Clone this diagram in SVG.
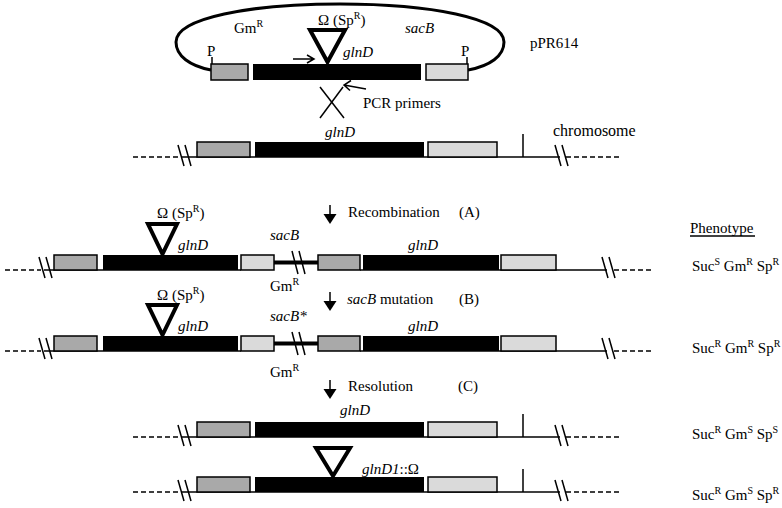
<svg xmlns="http://www.w3.org/2000/svg" width="782" height="508" viewBox="0 0 782 508" font-family="'Liberation Serif', 'Times New Roman', 'DejaVu Serif', serif">
<style>
text{font-family:'Liberation Serif','Times New Roman','DejaVu Serif',serif;font-size:15px;fill:#000}
.it{font-style:italic}
.sup{font-size:10px}
.ln{stroke:#000;stroke-width:1.5;fill:none}
.dash{stroke:#000;stroke-width:1.5;fill:none;stroke-dasharray:5 3}
.thick{stroke:#000;stroke-width:4;fill:none}
.dk{fill:#a9a9a9;stroke:#000;stroke-width:1.5}
.lt{fill:#dadada;stroke:#000;stroke-width:1.5}
.gene{fill:#000}
.tri{fill:none;stroke:#000;stroke-width:4;stroke-linejoin:miter}
</style>
<defs>
<g id="chrom">
<line class="dash" x1="133" y1="15" x2="178" y2="15"/>
<line class="ln" x1="181" y1="15" x2="560" y2="15"/>
<line class="ln" x1="178" y1="3" x2="184" y2="24"/>
<line class="ln" x1="185" y1="3" x2="191" y2="24"/>
<rect class="dk" x="197" y="0" width="53" height="15"/>
<rect class="gene" x="255" y="0" width="169" height="15"/>
<rect class="lt" x="428" y="0" width="69" height="15"/>
<line class="ln" x1="523" y1="-8" x2="523" y2="15"/>
<line class="ln" x1="555" y1="3" x2="561" y2="24"/>
<line class="ln" x1="562" y1="3" x2="568" y2="24"/>
<line class="dash" x1="566" y1="15" x2="620" y2="15"/>
</g>
<g id="coint">
<line class="dash" x1="5" y1="15" x2="41" y2="15"/>
<line class="ln" x1="44" y1="15" x2="241" y2="15"/>
<line class="ln" x1="360" y1="15" x2="607" y2="15"/>
<line class="ln" x1="39" y1="2" x2="45" y2="23"/>
<line class="ln" x1="46" y1="2" x2="52" y2="23"/>
<rect class="dk" x="54" y="0" width="43" height="15"/>
<rect class="gene" x="103" y="0" width="135" height="15"/>
<rect class="lt" x="241" y="0" width="33" height="15"/>
<line class="thick" x1="274" y1="7.5" x2="318" y2="7.5"/>
<line class="ln" x1="292" y1="-4" x2="298" y2="19"/>
<line class="ln" x1="299" y1="-4" x2="305" y2="19"/>
<rect class="dk" x="318" y="0" width="42" height="15"/>
<rect class="gene" x="363" y="0" width="136" height="15"/>
<rect class="lt" x="501" y="0" width="55" height="15"/>
<line class="ln" x1="602" y1="2" x2="608" y2="23"/>
<line class="ln" x1="609" y1="2" x2="615" y2="23"/>
<line class="dash" x1="614" y1="15" x2="653" y2="15"/>
<path class="tri" d="M148,-31 L177,-31 L162.5,-1 Z"/>
</g>
<g id="arrow">
<line x1="330" y1="0" x2="330" y2="10" stroke="#000" stroke-width="1.5"/>
<polygon points="323.5,9 336.5,9 330,19" fill="#000"/>
</g>
</defs>

<g id="plasmid">
<path d="M211,70 C190,66 176,56 176,42 C176,18 250,4 340,4 C430,4 504,18 504,42 C504,56 490,66 468,70" fill="none" stroke="#000" stroke-width="3"/>
<rect class="dk" x="211" y="64" width="37" height="16"/>
<rect class="gene" x="253" y="64" width="168" height="16"/>
<rect class="lt" x="426" y="64" width="42" height="16"/>
<line class="ln" x1="212" y1="57" x2="212" y2="64"/>
<line class="ln" x1="467" y1="57" x2="467" y2="64"/>
<text x="207" y="56">P</text>
<text x="461" y="56">P</text>
<text x="234" y="33">Gm<tspan class="sup" dy="-6">R</tspan></text>
<text x="318" y="25">Ω (Sp<tspan class="sup" dy="-6">R</tspan><tspan dy="6">)</tspan></text>
<text class="it" x="405" y="33">sacB</text>
<text class="it" x="343" y="57">glnD</text>
<path class="tri" d="M310,30 L345,30 L327.5,62 Z"/>
<text x="530" y="48">pPR614</text>
</g>

<g id="primers">
<path class="ln" d="M293,59 L314,59 M307,55 L314,59 L307,63"/>
<path class="ln" d="M366,89 L344,85 M351,80.5 L344,85 L350,90.5"/>
<text x="363" y="108">PCR primers</text>
</g>

<g id="crossover">
<line class="ln" x1="320" y1="87" x2="344" y2="118"/>
<line class="ln" x1="343" y1="87" x2="320" y2="118"/>
</g>

<g id="chromosome" transform="translate(0,142)">
<use href="#chrom"/>
</g>
<text class="it" x="340" y="137" text-anchor="middle">glnD</text>
<text x="553" y="136" style="font-size:16px">chromosome</text>

<g id="step-A">
<use href="#arrow" transform="translate(0,205)"/>
<text x="348" y="217">Recombination</text>
<text x="459" y="217">(A)</text>
</g>

<g id="phenotype-header">
<text x="690" y="233">Phenotype</text>
<line class="ln" x1="690" y1="236" x2="755" y2="236" stroke-width="1"/>
</g>

<g id="cointegrate-A" transform="translate(0,255)">
<use href="#coint"/>
</g>
<text x="157" y="218">Ω (Sp<tspan class="sup" dy="-6">R</tspan><tspan dy="6">)</tspan></text>
<text class="it" x="178" y="250">glnD</text>
<text class="it" x="270" y="240">sacB</text>
<text class="it" x="408" y="250">glnD</text>
<text x="270" y="291">Gm<tspan class="sup" dy="-6">R</tspan></text>
<text x="692" y="271">Suc<tspan class="sup" dy="-6">S</tspan><tspan dy="6"> Gm</tspan><tspan class="sup" dy="-6">R</tspan><tspan dy="6"> Sp</tspan><tspan class="sup" dy="-6">R</tspan></text>

<g id="step-B">
<use href="#arrow" transform="translate(0,292)"/>
<text x="347" y="304"><tspan class="it">sacB</tspan> mutation</text>
<text x="459" y="304">(B)</text>
</g>

<g id="cointegrate-B" transform="translate(0,336)">
<use href="#coint"/>
</g>
<text x="157" y="300">Ω (Sp<tspan class="sup" dy="-6">R</tspan><tspan dy="6">)</tspan></text>
<text class="it" x="178" y="331">glnD</text>
<text class="it" x="270" y="321">sacB*</text>
<text class="it" x="408" y="331">glnD</text>
<text x="270" y="377">Gm<tspan class="sup" dy="-6">R</tspan></text>
<text x="692" y="353">Suc<tspan class="sup" dy="-6">R</tspan><tspan dy="6"> Gm</tspan><tspan class="sup" dy="-6">R</tspan><tspan dy="6"> Sp</tspan><tspan class="sup" dy="-6">R</tspan></text>

<g id="step-C">
<use href="#arrow" transform="translate(0,380)"/>
<text x="348" y="391">Resolution</text>
<text x="458" y="391">(C)</text>
</g>

<g id="resolved-wt" transform="translate(0,422)">
<use href="#chrom"/>
</g>
<text class="it" x="340" y="415">glnD</text>
<text x="692" y="439">Suc<tspan class="sup" dy="-6">R</tspan><tspan dy="6"> Gm</tspan><tspan class="sup" dy="-6">S</tspan><tspan dy="6"> Sp</tspan><tspan class="sup" dy="-6">S</tspan></text>

<g id="resolved-mutant" transform="translate(0,477)">
<use href="#chrom"/>
<path class="tri" d="M316,-29 L350,-29 L333,-1 Z"/>
</g>
<text x="362" y="474"><tspan class="it">glnD1</tspan>::Ω</text>
<text x="692" y="500">Suc<tspan class="sup" dy="-6">R</tspan><tspan dy="6"> Gm</tspan><tspan class="sup" dy="-6">S</tspan><tspan dy="6"> Sp</tspan><tspan class="sup" dy="-6">R</tspan></text>
</svg>
